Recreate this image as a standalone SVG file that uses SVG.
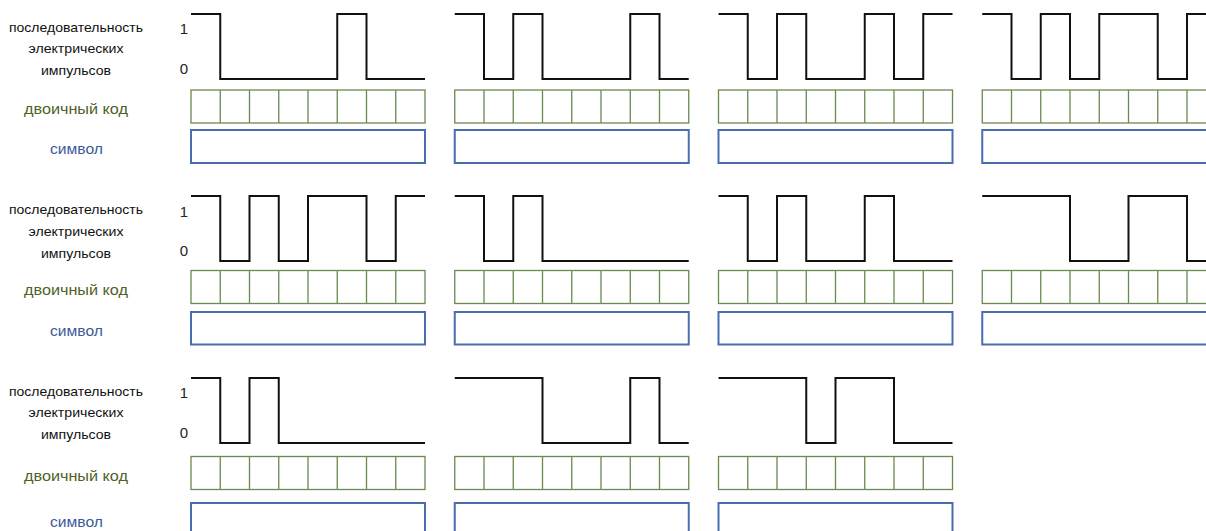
<svg xmlns="http://www.w3.org/2000/svg" xmlns:xlink="http://www.w3.org/1999/xlink" width="1206" height="531" viewBox="0 0 1206 531">
<style>
  .bg{fill:#ffffff}
  .wave{fill:none;stroke:#111111;stroke-width:2;stroke-linejoin:miter;stroke-linecap:butt}
  .code{fill:none;stroke:#6a8a50;stroke-width:1.3}
  .sym{fill:none;stroke:#4a6db0;stroke-width:2}
  .lbl{font-family:"Liberation Sans",Arial,sans-serif;font-size:13px;fill:#111111;text-anchor:middle}
  .dig{font-family:"Liberation Sans",Arial,sans-serif;font-size:15px;fill:#2a2418;text-anchor:middle}
  .lcode{font-family:"Liberation Sans",Arial,sans-serif;font-size:14.5px;fill:#4f6228;text-anchor:middle}
  .lsym{font-family:"Liberation Sans",Arial,sans-serif;font-size:14px;fill:#3c5a9a;text-anchor:middle}
</style>
<defs>
  <g id="codebox">
    <rect class="code" x="0" y="0" width="234" height="33"/>
    <path class="code" d="M29.25,0V33M58.5,0V33M87.75,0V33M117,0V33M146.25,0V33M175.5,0V33M204.75,0V33"/>
  </g>
</defs>
<rect class="bg" x="0" y="0" width="1206" height="531"/>

<g id="labels-row1">
  <text class="lbl" x="76" y="31.5" textLength="134" lengthAdjust="spacingAndGlyphs">последовательность</text>
  <text class="lbl" x="76" y="53" textLength="95" lengthAdjust="spacingAndGlyphs">электрических</text>
  <text class="lbl" x="76" y="75" textLength="70" lengthAdjust="spacingAndGlyphs">импульсов</text>
  <text class="dig" x="184" y="34">1</text>
  <text class="dig" x="184" y="74">0</text>
  <text class="lcode" x="76" y="114" textLength="104" lengthAdjust="spacingAndGlyphs">двоичный код</text>
  <text class="lsym" x="76.5" y="154" textLength="53" lengthAdjust="spacingAndGlyphs">символ</text>
</g>
<g id="labels-row2">
  <text class="lbl" x="76" y="214" textLength="134" lengthAdjust="spacingAndGlyphs">последовательность</text>
  <text class="lbl" x="76" y="235.5" textLength="95" lengthAdjust="spacingAndGlyphs">электрических</text>
  <text class="lbl" x="76" y="257.5" textLength="70" lengthAdjust="spacingAndGlyphs">импульсов</text>
  <text class="dig" x="184" y="216.5">1</text>
  <text class="dig" x="184" y="256">0</text>
  <text class="lcode" x="76" y="295" textLength="104" lengthAdjust="spacingAndGlyphs">двоичный код</text>
  <text class="lsym" x="76.5" y="336" textLength="53" lengthAdjust="spacingAndGlyphs">символ</text>
</g>
<g id="labels-row3">
  <text class="lbl" x="76" y="395.5" textLength="134" lengthAdjust="spacingAndGlyphs">последовательность</text>
  <text class="lbl" x="76" y="417" textLength="95" lengthAdjust="spacingAndGlyphs">электрических</text>
  <text class="lbl" x="76" y="439" textLength="70" lengthAdjust="spacingAndGlyphs">импульсов</text>
  <text class="dig" x="184" y="397.5">1</text>
  <text class="dig" x="184" y="437.5">0</text>
  <text class="lcode" x="76" y="480.5" textLength="104" lengthAdjust="spacingAndGlyphs">двоичный код</text>
  <text class="lsym" x="76.5" y="526.5" textLength="53" lengthAdjust="spacingAndGlyphs">символ</text>
</g>

<g id="r1c1">
  <path class="wave" d="M191,14 H220.25 V79 H337.25 V14 H366.5 V79 H425"/>
  <use xlink:href="#codebox" href="#codebox" x="191" y="90"/>
  <rect class="sym" x="191" y="130" width="234" height="33"/>
</g>
<g id="r1c2">
  <path class="wave" d="M454.75,14 H484 V79 H513.25 V14 H542.5 V79 H630.25 V14 H659.5 V79 H688.75"/>
  <use xlink:href="#codebox" href="#codebox" x="454.75" y="90"/>
  <rect class="sym" x="454.75" y="130" width="234" height="33"/>
</g>
<g id="r1c3">
  <path class="wave" d="M718.5,14 H747.75 V79 H777 V14 H806.25 V79 H864.75 V14 H894 V79 H923.25 V14 H952.5"/>
  <use xlink:href="#codebox" href="#codebox" x="718.5" y="90"/>
  <rect class="sym" x="718.5" y="130" width="234" height="33"/>
</g>
<g id="r1c4">
  <path class="wave" d="M982.25,14 H1011.5 V79 H1040.75 V14 H1070 V79 H1099.25 V14 H1157.75 V79 H1187 V14 H1216.25"/>
  <use xlink:href="#codebox" href="#codebox" x="982.25" y="90"/>
  <rect class="sym" x="982.25" y="130" width="234" height="33"/>
</g>

<g id="r2c1">
  <path class="wave" d="M191,196 H220.25 V261 H249.5 V196 H278.75 V261 H308 V196 H366.5 V261 H395.75 V196 H425"/>
  <use xlink:href="#codebox" href="#codebox" x="191" y="270.5"/>
  <rect class="sym" x="191" y="312" width="234" height="32.5"/>
</g>
<g id="r2c2">
  <path class="wave" d="M454.75,196 H484 V261 H513.25 V196 H542.5 V261 H688.75"/>
  <use xlink:href="#codebox" href="#codebox" x="454.75" y="270.5"/>
  <rect class="sym" x="454.75" y="312" width="234" height="32.5"/>
</g>
<g id="r2c3">
  <path class="wave" d="M718.5,196 H747.75 V261 H777 V196 H806.25 V261 H864.75 V196 H894 V261 H952.5"/>
  <use xlink:href="#codebox" href="#codebox" x="718.5" y="270.5"/>
  <rect class="sym" x="718.5" y="312" width="234" height="32.5"/>
</g>
<g id="r2c4">
  <path class="wave" d="M982.25,196 H1070 V261 H1128.5 V196 H1187 V261 H1216.25"/>
  <use xlink:href="#codebox" href="#codebox" x="982.25" y="270.5"/>
  <rect class="sym" x="982.25" y="312" width="234" height="32.5"/>
</g>

<g id="r3c1">
  <path class="wave" d="M191,378 H220.25 V443 H249.5 V378 H278.75 V443 H425"/>
  <use xlink:href="#codebox" href="#codebox" x="191" y="456.5"/>
  <rect class="sym" x="191" y="503" width="234" height="33"/>
</g>
<g id="r3c2">
  <path class="wave" d="M454.75,378 H542.5 V443 H630.25 V378 H659.5 V443 H688.75"/>
  <use xlink:href="#codebox" href="#codebox" x="454.75" y="456.5"/>
  <rect class="sym" x="454.75" y="503" width="234" height="33"/>
</g>
<g id="r3c3">
  <path class="wave" d="M718.5,378 H806.25 V443 H835.5 V378 H894 V443 H952.5"/>
  <use xlink:href="#codebox" href="#codebox" x="718.5" y="456.5"/>
  <rect class="sym" x="718.5" y="503" width="234" height="33"/>
</g>
</svg>
